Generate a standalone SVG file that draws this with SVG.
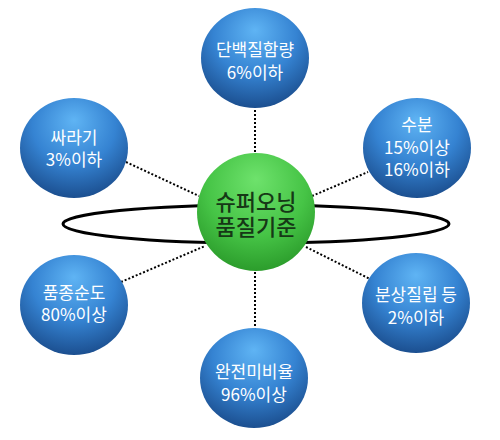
<svg xmlns="http://www.w3.org/2000/svg" width="500" height="440" viewBox="0 0 500 440">
<style>
.dot{stroke:#000;stroke-width:2;stroke-dasharray:2 2;fill:none}
.blue{fill:url(#gb)}
.t{font-family:"Noto Sans CJK KR","Noto Sans",sans-serif;font-size:17px;fill:#fff;text-anchor:middle}
.g{font-family:"Noto Sans CJK KR","Noto Sans",sans-serif;font-size:22px;font-weight:500;fill:#163816;text-anchor:middle}
</style>
<defs>
<radialGradient id="gb" cx="50%" cy="32%" r="70%" fx="50%" fy="22%">
<stop offset="0" stop-color="#5fb4f4"/>
<stop offset="0.55" stop-color="#3583d2"/>
<stop offset="1" stop-color="#1a4c8c"/>
</radialGradient>
<radialGradient id="gg" cx="50%" cy="32%" r="70%" fx="50%" fy="22%">
<stop offset="0" stop-color="#6ee26c"/>
<stop offset="0.6" stop-color="#46c446"/>
<stop offset="1" stop-color="#2a9a2a"/>
</radialGradient>
</defs>
<g id="connectors">
<line class="dot" x1="255" y1="106" x2="255" y2="156"/>
<line class="dot" x1="126" y1="162" x2="199" y2="196"/>
<line class="dot" x1="312" y1="196" x2="368" y2="172"/>
<line class="dot" x1="121" y1="282" x2="205" y2="246"/>
<line class="dot" x1="306" y1="247" x2="370" y2="279"/>
<line class="dot" x1="255" y1="268" x2="255" y2="330"/>
</g>
<g id="ring">
<ellipse cx="256" cy="224" rx="193" ry="19" fill="none" stroke="#000" stroke-width="3"/>
</g>
<g id="center">
<circle cx="256" cy="212" r="59" fill="url(#gg)"/>
<text class="g" x="256" y="210">슈퍼오닝</text>
<text class="g" x="256" y="235">품질기준</text>
</g>
<g id="n-protein">
<ellipse class="blue" cx="255" cy="58" rx="54" ry="50"/>
<text class="t" x="255" y="56">단백질함량</text>
<text class="t" x="255" y="79">6%이하</text>
</g>
<g id="n-moisture">
<ellipse class="blue" cx="417" cy="148" rx="54" ry="50"/>
<text class="t" x="417" y="131">수분</text>
<text class="t" x="417" y="154">15%이상</text>
<text class="t" x="417" y="176">16%이하</text>
</g>
<g id="n-broken">
<ellipse class="blue" cx="74" cy="148" rx="54" ry="50"/>
<text class="t" x="74" y="144">싸라기</text>
<text class="t" x="74" y="166">3%이하</text>
</g>
<g id="n-purity">
<ellipse class="blue" cx="74" cy="305" rx="54" ry="50"/>
<text class="t" x="74" y="299">품종순도</text>
<text class="t" x="74" y="321">80%이상</text>
</g>
<g id="n-chalky">
<ellipse class="blue" cx="416" cy="303" rx="54" ry="50"/>
<text class="t" x="416" y="301">분상질립 등</text>
<text class="t" x="416" y="324">2%이하</text>
</g>
<g id="n-whole">
<ellipse class="blue" cx="254" cy="378" rx="54" ry="50"/>
<text class="t" x="254" y="378">완전미비율</text>
<text class="t" x="254" y="401">96%이상</text>
</g>
</svg>
